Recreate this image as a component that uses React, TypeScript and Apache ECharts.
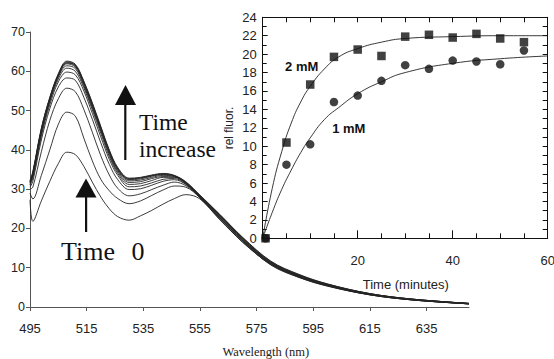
import React, { useEffect, useRef } from "react";
import * as echarts from "echarts";

// ---------- Main chart: fluorescence spectra ----------
const WAVELENGTHS = [495, 496, 499, 502, 505, 508, 511, 514, 517, 520, 523, 526, 530, 534, 538, 542, 546, 550, 555, 562, 570, 580, 590, 600, 615, 630, 650];
const X_TICKS = [495, 515, 535, 555, 575, 595, 615, 635];

const spectrum00 = [27.3, 21.8, 27.0, 32.0, 36.5, 39.4, 38.8, 35.8, 31.8, 28.0, 25.0, 23.0, 22.1, 23.2, 24.6, 26.2, 27.6, 28.6, 27.5, 22.2, 16.6, 10.8, 7.6, 5.4, 3.1, 1.8, 0.8];
const spectrum01 = [29.0, 27.5, 33.5, 40.0, 46.5, 49.6, 48.6, 43.0, 37.2, 32.5, 29.6, 27.6, 26.3, 27.0, 28.4, 29.8, 30.8, 30.5, 27.8, 22.6, 16.9, 11.0, 7.7, 5.5, 3.2, 1.8, 0.8];
const spectrum02 = [30.0, 30.5, 39.5, 47.5, 53.0, 55.7, 54.8, 50.3, 44.5, 38.5, 33.6, 30.2, 28.3, 28.8, 29.9, 31.0, 31.8, 30.9, 28.0, 22.9, 17.1, 11.2, 7.9, 5.6, 3.3, 1.9, 0.9];
const spectrum03 = [30.5, 32.0, 42.5, 50.5, 56.0, 58.3, 57.7, 53.4, 47.8, 41.8, 36.3, 32.4, 29.9, 30.1, 31.0, 32.0, 32.4, 31.2, 28.1, 23.1, 17.3, 11.1, 7.8, 5.5, 3.2, 1.9, 0.8];
const spectrum04 = [31.0, 32.8, 43.5, 51.5, 57.3, 59.8, 59.1, 55.0, 49.3, 43.3, 37.6, 33.5, 30.6, 30.8, 31.6, 32.5, 32.7, 31.3, 28.2, 23.3, 17.5, 11.4, 8.1, 5.7, 3.3, 2.0, 0.9];
const spectrum05 = [31.2, 33.3, 44.0, 52.2, 58.0, 60.8, 60.0, 55.8, 50.2, 44.2, 38.3, 34.0, 31.2, 31.4, 32.2, 33.0, 33.0, 31.5, 27.9, 22.7, 16.8, 10.7, 7.5, 5.3, 3.1, 1.8, 0.8];
const spectrum06 = [31.5, 33.6, 44.6, 52.6, 58.5, 61.4, 60.7, 56.3, 50.7, 44.8, 38.8, 34.4, 31.7, 31.9, 32.7, 33.2, 33.1, 31.6, 28.3, 23.4, 17.6, 11.5, 8.2, 5.8, 3.4, 2.0, 0.9];
const spectrum07 = [31.7, 33.8, 44.8, 52.8, 58.8, 61.9, 61.1, 56.7, 51.1, 45.1, 39.2, 34.7, 32.1, 32.3, 33.0, 33.5, 33.2, 31.5, 27.8, 22.4, 16.5, 10.9, 7.6, 5.4, 3.1, 1.8, 0.8];
const spectrum08 = [31.9, 34.0, 45.0, 53.0, 59.0, 62.2, 61.4, 57.0, 51.4, 45.4, 39.5, 35.0, 32.4, 32.6, 33.3, 33.7, 33.3, 31.7, 28.2, 23.2, 17.3, 11.3, 8.0, 5.6, 3.3, 1.9, 0.9];
const spectrum09 = [32.0, 34.2, 45.3, 53.2, 59.2, 62.4, 61.6, 57.2, 51.6, 45.6, 39.6, 35.1, 32.5, 32.9, 33.5, 33.9, 33.4, 31.8, 28.4, 23.5, 17.7, 11.6, 8.1, 5.8, 3.4, 2.0, 0.9];
const spectrum10 = [31.8, 34.1, 45.1, 53.1, 59.0, 62.1, 61.5, 57.3, 51.8, 45.7, 39.8, 35.3, 32.7, 32.8, 33.4, 33.8, 33.4, 31.6, 28.0, 22.8, 17.0, 11.0, 7.8, 5.5, 3.2, 1.9, 0.8];
const spectrum11 = [32.2, 34.5, 45.5, 53.4, 59.4, 62.6, 61.8, 57.5, 52.0, 46.0, 40.0, 35.5, 32.8, 33.0, 33.6, 34.0, 33.5, 31.9, 28.5, 23.6, 17.8, 11.7, 8.3, 5.9, 3.4, 2.0, 0.9];

const SPECTRA = [spectrum00, spectrum01, spectrum02, spectrum03, spectrum04, spectrum05, spectrum06, spectrum07, spectrum08, spectrum09, spectrum10, spectrum11];

// ---------- Inset: rel fluor. vs time ----------
const TIME_POINTS = [0.6, 5, 10, 15, 20, 25, 30, 35, 40, 45, 50, 55];
const fluor2mM = [0, 10.4, 16.7, 19.7, 20.5, 19.8, 21.9, 22.1, 21.8, 22.2, 21.7, 21.3];
const fluor1mM = [0, 8.0, 10.2, 14.8, 15.5, 17.1, 18.8, 18.4, 19.3, 19.2, 18.9, 20.4];

const FIT_TIMES = [0, 2, 4, 6, 8, 10, 13, 16, 20, 25, 30, 40, 50, 60];
const fit2mM = [0, 5.4, 9.4, 12.5, 14.8, 16.5, 18.4, 19.7, 20.6, 21.3, 21.7, 21.9, 22.0, 22.0];
const fit1mM = [0, 2.8, 5.3, 7.4, 9.3, 10.9, 12.9, 14.2, 15.7, 17.0, 18.0, 19.0, 19.5, 19.8];

const SANS = '"Liberation Sans", Arial, sans-serif';
const SERIF = '"Liberation Serif", "Times New Roman", serif';

export default function App() {
  const ref = useRef<HTMLDivElement>(null);

  useEffect(() => {
    if (!ref.current) return;
    const chart = echarts.init(ref.current, null, { renderer: "svg" });

    const spectraSeries = SPECTRA.map((s, i) => ({
      name: "spectrum" + i,
      type: "line",
      xAxisIndex: 0,
      yAxisIndex: 0,
      data: WAVELENGTHS.map((w, j) => [w, s[j]]),
      showSymbol: false,
      smooth: 0.35,
      lineStyle: { color: "#262626", width: 0.9 },
      z: 2,
    }));

    const insetAxisCommon = {
      gridIndex: 1,
      type: "value",
      splitLine: { show: false },
      axisLine: { show: true, onZero: false, lineStyle: { color: "#111", width: 1 } },
    };

    const option: any = {
      animation: false,
      backgroundColor: "#fff",
      grid: [
        { left: 30, right: 85, top: 32, bottom: 52, containLabel: false, outerBoundsMode: "none" },
        { left: 262.7, right: 6.3, top: 17.3, bottom: 120.7, containLabel: false, outerBoundsMode: "none" },
      ],
      xAxis: [
        {
          gridIndex: 0,
          type: "value",
          min: 495,
          max: 650,
          splitLine: { show: false },
          axisLine: { show: true, onZero: false, lineStyle: { color: "#555", width: 1 } },
          axisTick: { show: true, length: 4, customValues: X_TICKS, lineStyle: { color: "#555" } },
          axisLabel: { show: true, customValues: X_TICKS, margin: 15, color: "#222", fontSize: 13, fontFamily: SANS },
        },
        {
          ...insetAxisCommon,
          min: 0,
          max: 60,
          interval: 20,
          position: "bottom",
          axisTick: { show: true, inside: true, length: 8, lineStyle: { color: "#111" } },
          minorTick: { show: true, splitNumber: 4, length: 5, lineStyle: { color: "#111" } },
          axisLabel: {
            show: true,
            margin: 16,
            color: "#222",
            fontSize: 13,
            fontFamily: SANS,
            showMinLabel: false,
            showMaxLabel: true,
          },
        },
        {
          ...insetAxisCommon,
          min: 0,
          max: 60,
          interval: 20,
          position: "top",
          axisTick: { show: true, inside: true, length: 5, lineStyle: { color: "#111" } },
          minorTick: { show: true, splitNumber: 4, length: 5, lineStyle: { color: "#111" } },
          axisLabel: { show: false },
        },
      ],
      yAxis: [
        {
          gridIndex: 0,
          type: "value",
          min: 0,
          max: 70,
          interval: 10,
          splitLine: { show: false },
          axisLine: { show: true, onZero: false, lineStyle: { color: "#555", width: 1 } },
          axisTick: { show: true, length: 4, lineStyle: { color: "#555" } },
          axisLabel: { show: true, margin: 5, color: "#222", fontSize: 12.5, fontFamily: SANS },
        },
        {
          ...insetAxisCommon,
          min: 0,
          max: 24,
          interval: 2,
          position: "left",
          axisTick: { show: true, inside: true, length: 5, lineStyle: { color: "#111" } },
          minorTick: { show: true, splitNumber: 2, length: 4, lineStyle: { color: "#111" } },
          axisLabel: { show: true, margin: 6, color: "#222", fontSize: 13, fontFamily: SANS },
        },
        {
          ...insetAxisCommon,
          min: 0,
          max: 24,
          interval: 2,
          position: "right",
          axisTick: { show: true, inside: true, length: 5, lineStyle: { color: "#111" } },
          minorTick: { show: true, splitNumber: 2, length: 5, lineStyle: { color: "#111" } },
          axisLabel: { show: false },
        },
      ],
      series: [
        ...spectraSeries,
        {
          name: "fit 2 mM",
          type: "line",
          xAxisIndex: 1,
          yAxisIndex: 1,
          data: FIT_TIMES.map((t, i) => [t, fit2mM[i]]),
          showSymbol: false,
          smooth: 0.5,
          lineStyle: { color: "#222", width: 0.9 },
          z: 3,
        },
        {
          name: "fit 1 mM",
          type: "line",
          xAxisIndex: 1,
          yAxisIndex: 1,
          data: FIT_TIMES.map((t, i) => [t, fit1mM[i]]),
          showSymbol: false,
          smooth: 0.5,
          lineStyle: { color: "#222", width: 0.9 },
          z: 3,
        },
        {
          name: "1 mM",
          type: "scatter",
          xAxisIndex: 1,
          yAxisIndex: 1,
          data: TIME_POINTS.map((t, i) => [t, fluor1mM[i]]),
          symbol: "circle",
          symbolSize: 8.5,
          itemStyle: { color: "#111" },
          z: 4,
        },
        {
          name: "2 mM",
          type: "scatter",
          xAxisIndex: 1,
          yAxisIndex: 1,
          data: TIME_POINTS.map((t, i) => [t, fluor2mM[i]]),
          symbol: "rect",
          symbolSize: 8.5,
          itemStyle: { color: "#111" },
          z: 5,
        },
      ],
      graphic: [
        // "Time increase" annotation with arrow
        { type: "rect", shape: { x: 124.2, y: 103, width: 2.2, height: 57 }, style: { fill: "#111" }, z: 10 },
        { type: "polygon", shape: { points: [[115, 105], [136, 105], [125.5, 85]] }, style: { fill: "#111" }, z: 10 },
        {
          type: "text", x: 139, y: 121.5, z: 10,
          style: { text: "Time", font: `23.5px ${SERIF}`, fill: "#111", align: "left", verticalAlign: "middle", textAlign: "left", textVerticalAlign: "middle" },
        },
        {
          type: "text", x: 139, y: 149, z: 10,
          style: { text: "increase", font: `23.5px ${SERIF}`, fill: "#111", align: "left", verticalAlign: "middle", textAlign: "left", textVerticalAlign: "middle" },
        },
        // "Time 0" annotation with arrow
        { type: "rect", shape: { x: 85, y: 195, width: 2.2, height: 37 }, style: { fill: "#111" }, z: 10 },
        { type: "polygon", shape: { points: [[75.5, 197.5], [96.5, 197.5], [86, 178.5]] }, style: { fill: "#111" }, z: 10 },
        {
          type: "text", x: 61, y: 251, z: 10,
          style: { text: "Time", font: `26px ${SERIF}`, fill: "#111", align: "left", verticalAlign: "middle", textAlign: "left", textVerticalAlign: "middle" },
        },
        {
          type: "text", x: 131.5, y: 251, z: 10,
          style: { text: "0", font: `26px ${SERIF}`, fill: "#111", align: "left", verticalAlign: "middle", textAlign: "left", textVerticalAlign: "middle" },
        },
        // axis titles
        {
          type: "text", x: 265.8, y: 352, z: 10,
          style: { text: "Wavelength (nm)", font: `12.5px ${SERIF}`, fill: "#222", align: "center", verticalAlign: "middle", textAlign: "center", textVerticalAlign: "middle" },
        },
        {
          type: "text", x: 405.8, y: 284, z: 10,
          style: { text: "Time (minutes)", font: `13px ${SANS}`, fill: "#222", align: "center", verticalAlign: "middle", textAlign: "center", textVerticalAlign: "middle" },
        },
        {
          type: "text", x: 229, y: 128, rotation: Math.PI / 2, z: 10,
          style: { text: "rel fluor.", font: `12px ${SANS}`, fill: "#222", align: "center", verticalAlign: "middle", textAlign: "center", textVerticalAlign: "middle" },
        },
        // series labels in the inset
        {
          type: "text", x: 301.7, y: 66.7, z: 10,
          style: { text: "2 mM", font: `bold 13px ${SANS}`, fill: "#111", align: "center", verticalAlign: "middle", textAlign: "center", textVerticalAlign: "middle" },
        },
        {
          type: "text", x: 348.8, y: 128.3, z: 10,
          style: { text: "1 mM", font: `bold 13px ${SANS}`, fill: "#111", align: "center", verticalAlign: "middle", textAlign: "center", textVerticalAlign: "middle" },
        },
      ],
    };

    chart.setOption(option);
    return () => chart.dispose();
  }, []);

  return <div ref={ref} style={{ width: 554, height: 359, position: "absolute", left: 0, top: 0 }} />;
}
